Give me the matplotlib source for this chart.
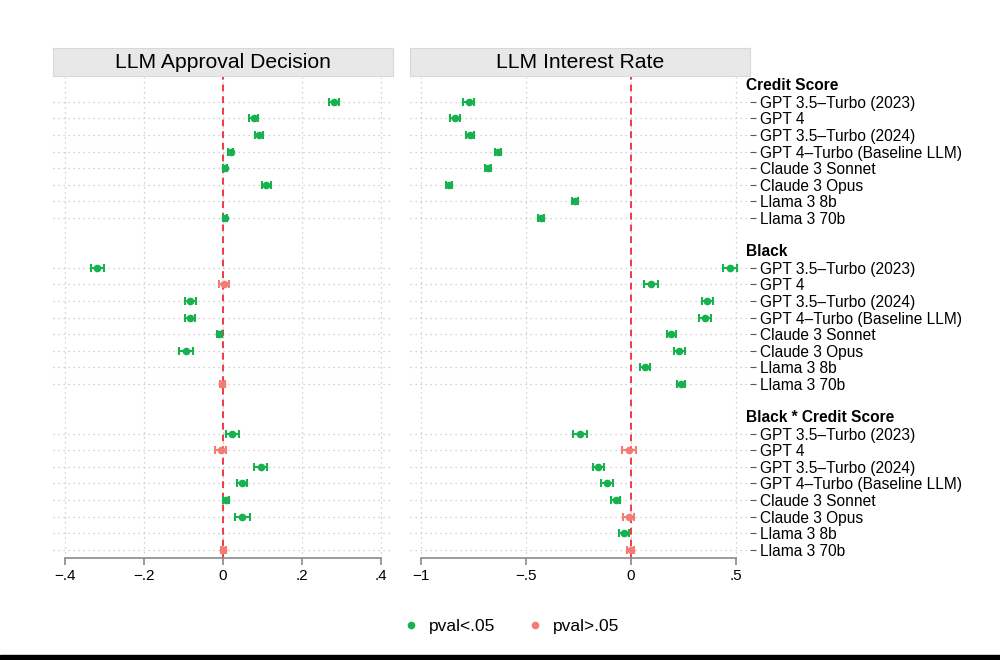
import matplotlib.pyplot as plt
from matplotlib.lines import Line2D
from matplotlib.patches import Rectangle
import numpy as np

plt.rcParams['font.family'] = ['Liberation Sans', 'DejaVu Sans']

models = ['GPT 3.5\u2013Turbo (2023)', 'GPT 4', 'GPT 3.5\u2013Turbo (2024)',
          'GPT 4\u2013Turbo (Baseline LLM)', 'Claude 3 Sonnet', 'Claude 3 Opus',
          'Llama 3 8b', 'Llama 3 70b']
sections = ['Credit Score', 'Black', 'Black * Credit Score']
panels = ['LLM Approval Decision', 'LLM Interest Rate']

# coefficients and 95% CI half widths, one list per section
appr_coef = [[0.280, 0.078, 0.091, 0.019, 0.006, 0.110, np.nan, 0.006],
             [-0.318, 0.002, -0.083, -0.084, -0.009, -0.094, np.nan, -0.002],
             [0.024, -0.006, 0.095, 0.048, 0.008, 0.049, np.nan, 0.001]]
appr_ci = [[0.013, 0.011, 0.011, 0.006, 0.005, 0.011, np.nan, 0.005],
           [0.017, 0.013, 0.014, 0.012, 0.007, 0.017, np.nan, 0.006],
           [0.016, 0.014, 0.016, 0.012, 0.007, 0.019, np.nan, 0.006]]
rate_coef = [[-0.771, -0.838, -0.766, -0.633, -0.681, -0.866, -0.266, -0.428],
             [0.473, 0.095, 0.366, 0.353, 0.194, 0.232, 0.068, 0.240],
             [-0.240, -0.006, -0.154, -0.113, -0.072, -0.010, -0.033, 0.000]]
rate_ci = [[0.026, 0.025, 0.020, 0.015, 0.015, 0.015, 0.015, 0.013],
           [0.033, 0.033, 0.028, 0.028, 0.023, 0.027, 0.024, 0.017],
           [0.033, 0.033, 0.027, 0.027, 0.023, 0.027, 0.024, 0.017]]

appr_ticks = [-0.4, -0.2, 0, 0.2, 0.4]
appr_labels = ['\u2212.4', '\u2212.2', '0', '.2', '.4']
rate_ticks = [-1, -0.5, 0, 0.5]
rate_labels = ['\u22121', '\u2212.5', '0', '.5']

green = '#17b14f'
salmon = '#f27d74'

fig = plt.figure(figsize=(10, 6.6), dpi=100)

# row slots: header, 8 models, blank, ...
header_pos = [0, 10, 20]
row_pos = [h + 1 + i for h in header_pos for i in range(len(models))]

specs = [
    (panels[0], appr_coef, appr_ci, appr_ticks, appr_labels, 0.053, (-0.430, 0.430)),
    (panels[1], rate_coef, rate_ci, rate_ticks, rate_labels, 0.410, (-1.052, 0.569)),
]

for k, (title, coef, ci, ticks, tlabels, left, xlim) in enumerate(specs):
    ax = fig.add_axes([left, 0.1545, 0.340, 0.7288])
    c = np.array(coef).ravel()
    e = np.array(ci).ravel()
    y = np.array(row_pos)
    sig = np.abs(c) > e
    for mask, col in [(sig, green), (~sig, salmon)]:
        ax.errorbar(c[mask], y[mask], xerr=e[mask], fmt='o', color=col,
                    ms=4.5, elinewidth=1.5, capsize=3, capthick=1.5, zorder=3)
    ax.axvline(0, color='#ee3a45', ls=(0, (3.5, 2.5)), lw=1.4, zorder=2)
    ax.set_xlim(*xlim)
    ax.set_ylim(28.5, -0.5)
    ax.set_xticks(ticks)
    ax.set_xticklabels(tlabels, fontsize=11)
    ax.set_yticks(row_pos)
    ax.grid(True, ls=(0, (1, 3)), color='#c4c4c4', lw=0.9, zorder=0)
    for s in ['top', 'left', 'right']:
        ax.spines[s].set_visible(False)
    ax.spines['bottom'].set_bounds(ticks[0], ticks[-1])
    ax.spines['bottom'].set_color('#8a8a8a')
    ax.spines['bottom'].set_linewidth(1.2)
    ax.tick_params(axis='x', color='#8a8a8a', length=5, width=1.2, pad=3)
    if k == 0:
        ax.tick_params(axis='y', length=0, labelleft=False)
    else:
        ax.yaxis.tick_right()
        ax.set_yticklabels(models * 3, fontsize=11.2)
        ax.tick_params(axis='y', color='#555555', length=4, width=0.8, pad=3)
        for h, name in zip(header_pos, sections):
            ax.annotate(name, xy=(1, h), xycoords=('axes fraction', 'data'),
                        xytext=(-3, 0), textcoords='offset points',
                        ha='left', va='center', fontsize=11.2, fontweight='bold',
                        annotation_clip=False)

    sax = fig.add_axes([left, 0.8848, 0.340, 0.0425])
    sax.set_facecolor('#e8e8e8')
    sax.set_xticks([])
    sax.set_yticks([])
    for s in sax.spines.values():
        s.set_color('#d8d8d8')
    sax.text(0.5, 0.47, title, ha='center', va='center', fontsize=15.2,
             transform=sax.transAxes)

handles = [Line2D([], [], marker='o', ls='none', color=green, ms=4.5),
           Line2D([], [], marker='o', ls='none', color=salmon, ms=4.5)]
fig.legend(handles, ['pval<.05', 'pval>.05'], loc='center',
           bbox_to_anchor=(0.512, 0.051), ncol=2, frameon=False, fontsize=12.5,
           handlelength=0.8, handletextpad=0.63, columnspacing=1.9)

fig.patches.append(Rectangle((0, 0), 1, 5 / 660, transform=fig.transFigure,
                             color='black'))

fig.savefig('out.png', dpi=100)
